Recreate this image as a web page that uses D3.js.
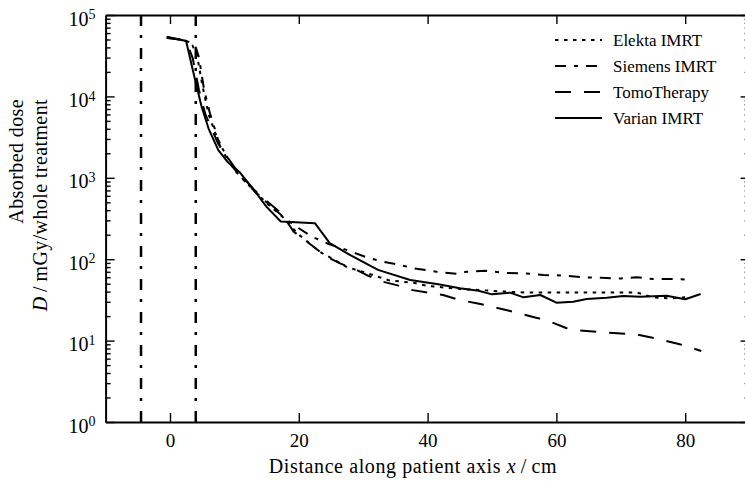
<!DOCTYPE html>
<html>
<head>
<meta charset="utf-8">
<script src="https://cdn.jsdelivr.net/npm/d3@7"></script>
<style>
  body { margin: 0; background: #fff; }
  svg { display: block; font-family: "Liberation Serif", "DejaVu Serif", serif; }
</style>
</head>
<body>
<svg width="745" height="482"></svg>
<script>
// dose profiles (x in cm, dose in mGy)
var elektaX = [-0.5, 1.5, 2.5, 3.5, 4.2, 5.0, 6.0, 7.0, 8.0, 10.0, 13.0, 15.0, 17.5, 20.0, 23.3, 27.5, 31.5, 34.0, 38.0, 40.0, 45.0, 48.0, 52.0, 55.0, 60.0, 65.0, 70.0, 72.5, 75.0, 78.0, 80.0];
var elektaDose = [53000, 50000, 48000, 42000, 32000, 14000, 6000, 3600, 2400, 1250, 700, 490, 330, 200, 123, 80, 64, 55, 51, 47, 43, 41.8, 40, 39, 39, 39, 39, 38.9, 34, 33, 34];

var siemensX = [-0.5, 1.5, 2.5, 3.5, 4.0, 4.5, 5.3, 6.2, 7.0, 7.8, 9.3, 11.0, 13.0, 15.0, 18.0, 20.0, 22.0, 24.5, 27.4, 30.2, 32.6, 35.7, 38.0, 41.4, 44.5, 46.0, 49.0, 52.0, 55.0, 58.0, 61.0, 64.0, 67.0, 70.0, 72.5, 75.0, 78.0, 80.7];
var siemensDose = [53000, 50000, 48000, 45000, 40000, 30000, 12000, 6200, 3900, 2400, 1500, 1020, 700, 500, 310, 240, 190, 155, 130, 108, 95, 85, 77, 70, 66, 70, 72, 68, 67, 64, 63, 60, 59, 58, 60, 57, 57, 56];

var tomoX = [-0.5, 1.5, 2.5, 3.5, 4.5, 5.5, 7.5, 10.0, 13.0, 15.0, 17.3, 19.2, 22.3, 24.3, 26.4, 29.0, 30.5, 33.0, 35.2, 37.7, 42.4, 45.0, 47.8, 52.5, 57.0, 59.5, 61.5, 63.5, 67.5, 72.5, 76.0, 79.0, 82.5];
var tomoDose = [52000, 50000, 48000, 30000, 12000, 6000, 2600, 1350, 720, 520, 366, 218, 142, 107, 89, 73.5, 64, 53, 48, 41.7, 36.3, 31.5, 28.6, 23.4, 19, 16.5, 14.3, 13.3, 12.6, 11.9, 10.4, 9.1, 7.45];

var varianX = [-0.5, 1.5, 2.5, 3.9, 4.9, 6.0, 7.5, 9.0, 10.9, 13.4, 15.0, 17.2, 22.5, 24.8, 28.0, 32.3, 37.3, 41.9, 45.0, 47.9, 50.0, 52.8, 54.9, 57.5, 60.0, 62.6, 64.7, 67.8, 70.4, 73.0, 77.1, 80.0, 82.4];
var varianDose = [54000, 50000, 48000, 15900, 7500, 4000, 2190, 1550, 1150, 650, 440, 290, 277, 158, 112, 74, 55.5, 49, 43.9, 41, 37, 38.8, 34, 36.3, 29.2, 30, 32.4, 33.7, 35.3, 34.6, 35.6, 32.2, 37.4];

var seriesNames = ["Elekta IMRT", "Siemens IMRT", "TomoTherapy", "Varian IMRT"];
var fieldEdges = [-4.5, 4];
var xTicks = [0, 20, 40, 60, 80];
var yDecades = [1, 10, 100, 1000, 10000, 100000];

var dashes = {
  "Elekta IMRT": "3.5,5.5",
  "Siemens IMRT": "11,8,4,8",
  "TomoTherapy": "16,13",
  "Varian IMRT": null
};

var series = [
  {name: seriesNames[0], x: elektaX, y: elektaDose},
  {name: seriesNames[1], x: siemensX, y: siemensDose},
  {name: seriesNames[2], x: tomoX, y: tomoDose},
  {name: seriesNames[3], x: varianX, y: varianDose}
];

var svg = d3.select("svg");
svg.append("rect").attr("width", 745).attr("height", 482).attr("fill", "#fff");

var plotLeft = 105.6, plotRight = 749.6, plotTop = 15, plotBottom = 422;

var x = d3.scaleLinear().domain([-10, 90]).range([plotLeft, plotRight]);
var y = d3.scaleLog().domain([1, 1e5]).range([plotBottom, plotTop]);

var minorTicks = [];
yDecades.slice(0, -1).forEach(function(d) {
  for (var m = 2; m < 10; m++) minorTicks.push(d * m);
});

// field edges
svg.selectAll(".edge")
  .data(fieldEdges)
  .enter().append("line")
  .attr("class", "edge")
  .attr("x1", function(d) { return x(d); })
  .attr("x2", function(d) { return x(d); })
  .attr("y1", plotTop)
  .attr("y2", plotBottom)
  .attr("stroke", "#000")
  .attr("stroke-width", 2.5)
  .attr("stroke-dasharray", "11,9,3,10");

var line = d3.line()
  .x(function(d) { return x(d[0]); })
  .y(function(d) { return y(d[1]); });

svg.selectAll(".series")
  .data(series)
  .enter().append("path")
  .attr("class", "series")
  .attr("fill", "none")
  .attr("stroke", "#000")
  .attr("stroke-width", 2)
  .attr("stroke-linejoin", "round")
  .attr("stroke-dasharray", function(d) { return dashes[d.name]; })
  .attr("d", function(d) { return line(d3.zip(d.x, d.y)); });

// axes, ticks pointing inwards on all four sides
function styleAxis(g) {
  g.selectAll("path").attr("stroke", "#000").attr("stroke-width", 2);
  g.selectAll("line").attr("stroke", "#000").attr("stroke-width", 1.4);
  g.attr("font-family", null).attr("font-size", 19);
}

svg.append("g")
  .attr("transform", "translate(0," + plotBottom + ")")
  .call(d3.axisBottom(x).tickValues(xTicks).tickSizeInner(-9).tickSizeOuter(0).tickPadding(12))
  .call(styleAxis);

svg.append("g")
  .attr("transform", "translate(0," + plotTop + ")")
  .call(d3.axisTop(x).tickValues(xTicks).tickSizeInner(-9).tickSizeOuter(0).tickFormat(""))
  .call(styleAxis);

var yAxis = svg.append("g")
  .attr("transform", "translate(" + plotLeft + ",0)")
  .call(d3.axisLeft(y).tickValues(yDecades).tickSizeInner(-9).tickSizeOuter(0).tickPadding(10).tickFormat(""))
  .call(styleAxis);

yAxis.selectAll(".tick text")
  .attr("dy", "0.5em")
  .attr("font-size", 20)
  .each(function(d) {
    var t = d3.select(this);
    t.append("tspan").text("10");
    t.append("tspan").attr("dy", "-0.45em").attr("font-size", 14).text(Math.round(Math.log10(d)));
  });

svg.append("g")
  .attr("transform", "translate(" + plotLeft + ",0)")
  .call(d3.axisLeft(y).tickValues(minorTicks).tickSizeInner(-5).tickSizeOuter(0).tickFormat(""))
  .call(styleAxis)
  .select(".domain").remove();

svg.append("g")
  .attr("transform", "translate(" + plotRight + ",0)")
  .call(d3.axisRight(y).tickValues(yDecades).tickSizeInner(-9).tickSizeOuter(0).tickFormat(""))
  .call(styleAxis);

svg.append("g")
  .attr("transform", "translate(" + plotRight + ",0)")
  .call(d3.axisRight(y).tickValues(minorTicks).tickSizeInner(-5).tickSizeOuter(0).tickFormat(""))
  .call(styleAxis)
  .select(".domain").remove();

// axis titles
var xt = svg.append("text")
  .attr("x", 413)
  .attr("y", 473)
  .attr("text-anchor", "middle")
  .attr("font-size", 20)
  .attr("letter-spacing", 0.6);
xt.append("tspan").text("Distance along patient axis ");
xt.append("tspan").attr("font-style", "italic").text("x");
xt.append("tspan").text("\u2009/\u2009cm");

svg.append("text")
  .attr("transform", "translate(23,99) rotate(-90)")
  .attr("text-anchor", "end")
  .attr("font-size", 20)
  .attr("letter-spacing", 0.4)
  .text("Absorbed dose");

var yt = svg.append("text")
  .attr("transform", "translate(47,99) rotate(-90)")
  .attr("text-anchor", "end")
  .attr("font-size", 20)
  .attr("letter-spacing", 0.4);
yt.append("tspan").attr("font-style", "italic").text("D");
yt.append("tspan").text("\u2009/\u2009mGy/whole treatment");

// legend
var legend = svg.selectAll(".legend")
  .data(seriesNames)
  .enter().append("g")
  .attr("class", "legend")
  .attr("transform", function(d, i) { return "translate(555," + (40 + i * 26) + ")"; });

legend.append("line")
  .attr("x1", 0)
  .attr("x2", 47)
  .attr("stroke", "#000")
  .attr("stroke-width", 2)
  .attr("stroke-dasharray", function(d) { return dashes[d]; });

legend.append("text")
  .attr("x", 58)
  .attr("y", 6)
  .attr("font-size", 17)
  .text(function(d) { return d; });
</script>
</body>
</html>
